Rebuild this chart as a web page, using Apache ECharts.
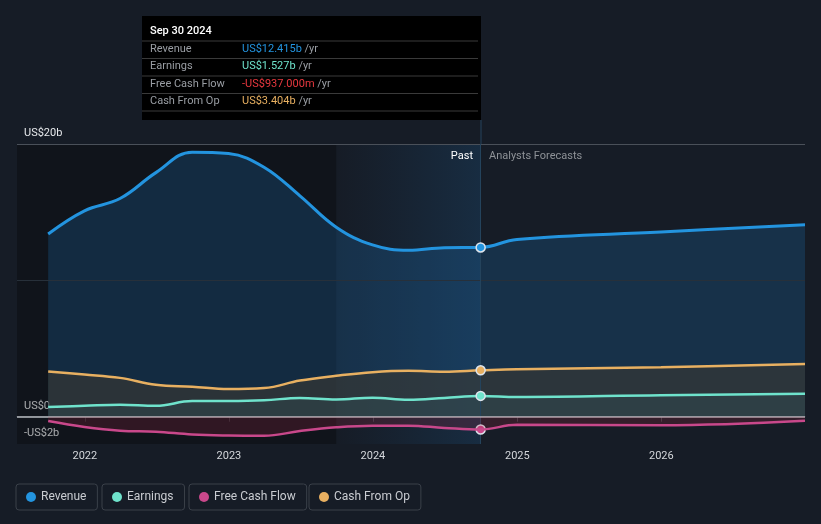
<!DOCTYPE html>
<html><head><meta charset="utf-8">
<script src="https://cdn.jsdelivr.net/npm/echarts@6/dist/echarts.min.js"></script>
<style>html,body{margin:0;padding:0;background:#161c26;}#c{width:821px;height:524px;}</style>
</head><body><div id="c"></div>
<script>
// ---- data ----
const dates = ['2021-09-30','2021-12-31','2022-03-31','2022-06-30','2022-09-30','2022-12-31','2023-03-31','2023-06-30','2023-09-30','2023-12-31','2024-03-31','2024-06-30','2024-09-30','2024-12-31','2025-12-31','2026-12-31'];
const revenue  = [13.4, 15.1, 16.0, 17.9, 19.4, 19.3, 18.3, 16.2, 13.9, 12.6, 12.2, 12.4, 12.415, 13.0, 13.55, 14.07];
const earnings = [0.71, 0.80, 0.88, 0.80, 1.15, 1.15, 1.20, 1.38, 1.27, 1.40, 1.25, 1.38, 1.527, 1.45, 1.58, 1.68];
const fcf      = [-0.32, -0.75, -1.02, -1.10, -1.30, -1.38, -1.40, -1.05, -0.78, -0.66, -0.66, -0.82, -0.937, -0.59, -0.63, -0.30];
const cfo      = [3.32, 3.10, 2.85, 2.35, 2.20, 2.03, 2.10, 2.65, 3.00, 3.27, 3.37, 3.30, 3.404, 3.49, 3.63, 3.86];
const seriesNames = ['Revenue','Earnings','Free Cash Flow','Cash From Op'];
const yTickValues = [20, 0, -2];
const yTickLabels = ['US$20b','US$0','-US$2b'];
const pastEndIndex = 12;
const highlightStart = '2023-09-30';
const tooltipTitle = 'Sep 30 2024';
const xMin = '2021-07-13', xMax = '2026-12-31';

// ---- styles ----
const C = {rev:'#2394df', earn:'#6fe3cc', fcf:'#c9488b', cfo:'#e8b061', fcfText:'#e8383f'};
const FONT = 'Roboto, "Noto Sans", sans-serif';

function fmt(v){
  const neg = v < 0, a = Math.abs(v);
  const s = a >= 1 ? 'US$' + a.toFixed(3) + 'b' : 'US$' + (a*1000).toFixed(3) + 'm';
  return (neg ? '-' : '') + s;
}
function pts(vals){ return dates.map((d,i)=>[d, vals[i]]); }
function mp(vals, color){
  return {symbol:'circle', symbolSize:9, silent:true, animation:false,
    itemStyle:{color:color, borderColor:'#dde4ec', borderWidth:1.5},
    label:{show:false},
    data:[{coord:[dates[pastEndIndex], vals[pastEndIndex]]}]};
}
function line(name, vals, color, areaColor, width, z){
  return {name:name, type:'line', data:pts(vals), smooth:0.4, showSymbol:false, z:z,
    lineStyle:{color:color, width:width}, itemStyle:{color:color},
    areaStyle:{color:areaColor, origin:0}, markPoint:mp(vals, color), animation:false};
}

const chart = echarts.init(document.getElementById('c'), null, {renderer:'canvas'});
const legendBase = {top:484, height:13, padding:[7,11,7,10], borderColor:'#3a4049', borderWidth:1, borderRadius:3,
  icon:'circle', itemWidth:10, itemHeight:10, itemGap:8,
  textStyle:{color:'#c9ccd1', fontSize:12, fontFamily:FONT}, selectedMode:false};
const legendLefts = [16, 102, 189, 309];

chart.setOption({
  backgroundColor:'#161c26',
  animation:false,
  textStyle:{fontFamily:FONT},
  grid:{left:17, right:16, top:144, bottom:80, containLabel:false},
  legend: seriesNames.map((n,i)=>Object.assign({}, legendBase, {left:legendLefts[i], data:[n]})),
  xAxis:{type:'time', min:xMin, max:xMax,
    axisLine:{lineStyle:{color:'#3b414a', width:1}},
    axisTick:{show:true, length:5, lineStyle:{color:'#3b414a'}},
    splitLine:{show:false},
    axisLabel:{color:'#d4d7db', fontSize:11, margin:7, showMinLabel:false, showMaxLabel:false,
      formatter:function(v){const d=new Date(v); return d.getMonth()===0 ? String(d.getFullYear()) : '';}}
  },
  yAxis:{type:'value', min:-2, max:20, interval:2,
    axisLine:{show:false}, axisTick:{show:false}, splitLine:{show:false},
    axisLabel:{inside:true, margin:7, color:'#e6e8eb', fontSize:11, verticalAlign:'bottom', padding:[0,0,5,0],
      formatter:function(v){const k=yTickValues.indexOf(v); return k>=0 ? yTickLabels[k] : '';}}
  },
  series:[
    {type:'line', data:[], z:0, silent:true,
      markArea:{silent:true, data:[
        [{xAxis:xMin, itemStyle:{color:'rgba(0,0,0,0.27)'}},{xAxis:highlightStart}],
        [{xAxis:highlightStart, itemStyle:{color:{type:'linear',x:0,y:0,x2:1,y2:0,colorStops:[
          {offset:0,color:'rgba(30,100,160,0.0)'},{offset:1,color:'rgba(30,110,175,0.20)'}]}}},
         {xAxis:dates[pastEndIndex]}]
      ]},
      markLine:{silent:true, symbol:'none', label:{show:false}, animation:false, data:[
        {yAxis:20, lineStyle:{color:'#4a5059', width:1, type:'solid'}},
        {yAxis:10, lineStyle:{color:'#27303a', width:1, type:'solid'}},
        {xAxis:dates[pastEndIndex], lineStyle:{color:'#24435c', width:1, type:'solid'}}
      ]}
    },
    line('Revenue', revenue, C.rev, 'rgba(30,115,190,0.34)', 3, 2),
    line('Cash From Op', cfo, C.cfo, 'rgba(58,57,50,0.88)', 2.5, 3),
    line('Earnings', earnings, C.earn, 'rgba(70,170,180,0.13)', 2.5, 4),
    line('Free Cash Flow', fcf, C.fcf, 'rgba(170,36,66,0.30)', 2.5, 5),
    {type:'line', data:[], z:6, silent:true,
      markLine:{silent:true, symbol:'none', label:{show:false}, animation:false, data:[
        {yAxis:0, lineStyle:{color:'#b9bdc2', width:1.5, type:'solid'}}]}}
  ]
});

// ---- overlay texts (tooltip box and past/forecast labels) ----
const px = chart.convertToPixel({xAxisIndex:0, yAxisIndex:0}, [dates[pastEndIndex], 20]);
const xEnd = Math.round(px[0]);
const boxL = 142, boxT = 16, boxB = 120;
const rows = [
  ['Revenue', fmt(revenue[pastEndIndex]), C.rev],
  ['Earnings', fmt(earnings[pastEndIndex]), C.earn],
  ['Free Cash Flow', fmt(fcf[pastEndIndex]), C.fcfText],
  ['Cash From Op', fmt(cfo[pastEndIndex]), C.cfo]
];
const rowY = [49, 66.5, 84, 101.5];
const sepY = [41, 58.5, 76, 93.5, 111];
const g = [
  {type:'rect', shape:{x:boxL, y:boxT, width:xEnd-boxL, height:boxB-boxT}, style:{fill:'#000'}, z:10},
  {type:'line', shape:{x1:xEnd, y1:boxB, x2:xEnd, y2:px[1]}, style:{stroke:'#24435c', lineWidth:1}, z:10},
  {type:'text', x:150, y:31, style:{text:tooltipTitle, fill:'#ffffff', font:'500 11px '+FONT, verticalAlign:'middle'}, z:11}
];
sepY.forEach(y=>g.push({type:'line', shape:{x1:boxL, y1:y, x2:xEnd-3, y2:y}, style:{stroke:'#3a3a3a', lineWidth:1}, z:11}));
rows.forEach((r,i)=>{
  g.push({type:'text', x:150, y:rowY[i], style:{text:r[0], fill:'#9a9ea4', font:'11px '+FONT, verticalAlign:'middle'}, z:11});
  g.push({type:'text', x:242, y:rowY[i], style:{text:'{v|'+r[1]+'}{u| /yr}', verticalAlign:'middle',
    rich:{v:{fill:r[2], font:'11px '+FONT}, u:{fill:'#9a9ea4', font:'11px '+FONT}}}, z:11});
});
g.push({type:'text', x:xEnd-8, y:156, style:{text:'Past', fill:'#ffffff', font:'11px '+FONT, align:'right', verticalAlign:'middle'}, z:11});
g.push({type:'text', x:xEnd+8, y:156, style:{text:'Analysts Forecasts', fill:'#8e9297', font:'11px '+FONT, align:'left', verticalAlign:'middle'}, z:11});
chart.setOption({graphic:g});
</script></body></html>
